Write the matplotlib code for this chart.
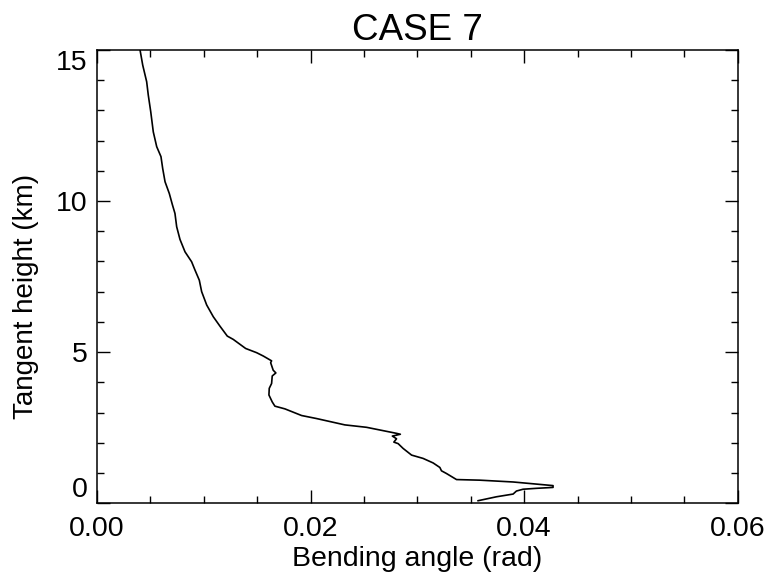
import matplotlib
matplotlib.use("agg")
import matplotlib.pyplot as plt
from matplotlib.ticker import MultipleLocator

## bending angle profile (rad vs km)
bending_angle = [0.00403, 0.00428, 0.00465, 0.00480, 0.00503, 0.00527, 0.00559, 0.00599,
                 0.00615, 0.00637, 0.00677, 0.00705, 0.00730, 0.00746, 0.00777, 0.00824,
                 0.00886, 0.00917, 0.00958, 0.00980, 0.01027, 0.01089, 0.01151, 0.01220,
                 0.01276, 0.01392, 0.01495, 0.01557, 0.01635, 0.01626, 0.01650, 0.01675,
                 0.01641, 0.01635, 0.01613, 0.01610, 0.01641, 0.01666, 0.01760, 0.01916,
                 0.02056, 0.02321, 0.02524, 0.02805, 0.02841, 0.02766, 0.02805, 0.02780,
                 0.02820, 0.02867, 0.02946, 0.03054, 0.03148, 0.03211, 0.03226, 0.03273,
                 0.03367, 0.03585, 0.03897, 0.04271, 0.04271, 0.04116, 0.03990, 0.03928,
                 0.03897, 0.03741, 0.03569]
tangent_height = [15.00, 14.50, 13.95, 13.51, 12.96, 12.29, 11.80, 11.47,
                  11.08, 10.64, 10.25, 9.89, 9.59, 9.15, 8.73, 8.32,
                  7.99, 7.72, 7.38, 7.00, 6.56, 6.17, 5.86, 5.53,
                  5.42, 5.12, 4.98, 4.87, 4.71, 4.65, 4.40, 4.31,
                  4.21, 3.96, 3.80, 3.58, 3.35, 3.21, 3.12, 2.90,
                  2.80, 2.59, 2.51, 2.31, 2.28, 2.22, 2.13, 2.02,
                  1.97, 1.81, 1.59, 1.48, 1.33, 1.18, 1.07, 0.98,
                  0.78, 0.76, 0.70, 0.58, 0.52, 0.49, 0.46, 0.40,
                  0.30, 0.21, 0.08]

x_ticks = [0.00, 0.02, 0.04, 0.06]
x_labels = ["0.00", "0.02", "0.04", "0.06"]
y_ticks = [0, 5, 10, 15]
y_labels = ["0", "5", "10", "15"]

plt.rcParams['font.family'] = ['Liberation Sans', 'DejaVu Sans']

fig = plt.figure(figsize=(7.7, 5.75), dpi=100)
ax = fig.add_axes([0.126, 0.125, 0.832, 0.788])

ax.plot(bending_angle, tangent_height, color='black', lw=1.2)

ax.set_xlim(0, 0.06)
ax.set_ylim(0, 15)
ax.set_xticks(x_ticks)
ax.set_xticklabels(x_labels)
ax.set_yticks(y_ticks)
ax.set_yticklabels(y_labels)
ax.xaxis.set_minor_locator(MultipleLocator(0.005))
ax.yaxis.set_minor_locator(MultipleLocator(1))

ax.tick_params(which='both', direction='in', top=True, right=True, width=1.0, labelsize=20.5)
ax.tick_params(which='major', length=9.5)
ax.tick_params(which='minor', length=5)
ax.tick_params(axis='x', pad=9)
ax.tick_params(axis='y', pad=7)
for s in ax.spines.values():
    s.set_linewidth(1.1)

# keep the end labels inside the axis range, like the original
ylabs = ax.get_yticklabels()
ylabs[0].set_va('bottom')
ylabs[-1].set_va('top')

ax.set_xlabel("Bending angle (rad)", fontsize=20.5, labelpad=3)
ax.set_ylabel("Tangent height (km)", fontsize=20)
ax.yaxis.set_label_coords(-0.09, 0.457)
ax.set_title("CASE 7", fontsize=26.5, pad=7)

plt.savefig('out.png', dpi=100)
